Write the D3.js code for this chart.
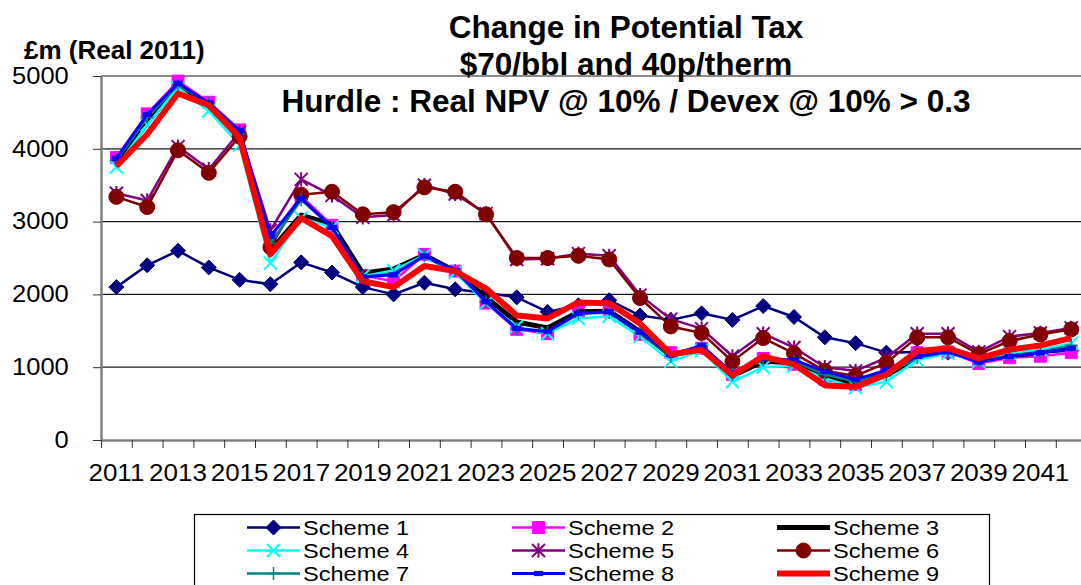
<!DOCTYPE html>
<html>
<head>
<meta charset="utf-8">
<script src="https://cdnjs.cloudflare.com/ajax/libs/d3/7.8.5/d3.min.js"></script>
<style>
  body { margin: 0; background: #fff; }
  svg { display: block; font-family: "Liberation Sans", Arial, sans-serif; }
</style>
</head>
<body>
<svg id="chart"></svg>
<script>
const years = d3.range(2011, 2043);
const yTicks = [0, 1000, 2000, 3000, 4000, 5000];
const xLabelYears = years.filter(y => y % 2 === 1);

const scheme1 = [2100,2400,2600,2370,2200,2140,2440,2300,2100,2000,2160,2070,2020,1960,1760,1850,1920,1710,1650,1740,1650,1840,1690,1410,1330,1200,1210,1200,1130,1180,1200,1230];
const scheme2 = [3880,4480,4930,4640,4260,2780,3350,2950,2260,2180,2550,2320,1880,1520,1460,1760,1760,1450,1200,1260,900,1120,1040,830,760,960,1200,1210,1050,1130,1150,1200];
const scheme3 = [3800,4350,4880,4600,4200,2600,3090,2960,2290,2350,2540,2320,1960,1620,1540,1760,1770,1490,1160,1260,880,1080,1060,870,780,890,1130,1230,1100,1160,1200,1300];
const scheme4 = [3750,4330,4840,4520,4050,2430,3050,2920,2250,2330,2540,2300,1880,1560,1460,1670,1700,1420,1080,1230,800,1000,1020,850,720,800,1100,1190,1080,1190,1240,1330];
const scheme5 = [3390,3290,4030,3720,4230,2880,3580,3360,3060,3090,3500,3380,3110,2480,2490,2560,2530,1990,1660,1530,1150,1460,1270,1000,950,1130,1460,1460,1210,1420,1470,1540];
const scheme6 = [3340,3200,3980,3670,4170,2650,3370,3410,3100,3130,3470,3410,3100,2500,2500,2530,2480,1950,1560,1470,1080,1400,1190,950,880,1060,1410,1410,1180,1360,1450,1520];
const scheme7 = [3840,4430,4870,4630,4200,2700,3300,2920,2240,2290,2530,2330,1900,1530,1480,1730,1750,1470,1150,1290,900,1100,1080,900,800,900,1130,1200,1080,1160,1210,1300];
const scheme8 = [3870,4470,4900,4630,4250,2800,3320,2920,2240,2270,2530,2330,1900,1530,1490,1740,1760,1480,1170,1300,920,1120,1100,940,830,960,1150,1210,1070,1150,1200,1260];
const scheme9 = [3760,4200,4760,4600,4150,2550,3050,2800,2180,2100,2390,2320,2080,1710,1670,1890,1880,1600,1180,1240,890,1150,1040,750,730,900,1220,1260,1120,1240,1300,1400];

const seriesNames = ["Scheme 1","Scheme 2","Scheme 3","Scheme 4","Scheme 5","Scheme 6","Scheme 7","Scheme 8","Scheme 9"];
const seriesValues = [scheme1, scheme2, scheme3, scheme4, scheme5, scheme6, scheme7, scheme8, scheme9];

// look of each series (colour, line width, marker)
const styles = [
  { color: "#000080", width: 2.5, marker: "diamond" },
  { color: "#ff00ff", width: 2.5, marker: "square" },
  { color: "#000000", width: 5,   marker: null },
  { color: "#00ffff", width: 2.5, marker: "cross" },
  { color: "#800080", width: 2.5, marker: "star" },
  { color: "#800000", width: 2.5, marker: "circle" },
  { color: "#008080", width: 2.5, marker: "plus" },
  { color: "#0000ff", width: 3,   marker: "dash" },
  { color: "#ff0000", width: 6,   marker: null }
];

const width = 1081;
const height = 585;
const plot = { left: 101, top: 76, bottom: 440, band: 30.8 };

const svg = d3.select("#chart").attr("width", width).attr("height", height);

// scales
const x = d3.scaleBand()
  .domain(years)
  .range([plot.left, plot.left + plot.band * years.length]);
const xEdge = d3.scaleLinear()
  .domain([0, years.length])
  .range([plot.left, plot.left + plot.band * years.length]);
const y = d3.scaleLinear().domain([0, 5000]).range([plot.bottom, plot.top]);
const cx = d => x(d) + x.bandwidth() / 2;

// gridlines
svg.append("g")
  .selectAll("line")
  .data(yTicks.filter(t => t > 0))
  .enter()
  .append("line")
    .attr("x1", plot.left).attr("x2", width)
    .attr("y1", d => y(d)).attr("y2", d => y(d))
    .attr("stroke", "#1a1a1a")
    .attr("stroke-width", 1.2);

// y axis
const yAxis = svg.append("g")
  .attr("transform", `translate(${plot.left},0)`)
  .call(d3.axisLeft(y).tickValues(yTicks).tickFormat(d3.format("d")).tickSize(8).tickSizeOuter(0));
yAxis.select(".domain").attr("stroke", "#808080").attr("stroke-width", 2.5);
yAxis.selectAll(".tick line").attr("stroke", "#333");
yAxis.selectAll(".tick text")
  .attr("x", -29)
  .attr("transform", "scale(1.11,1)")
  .style("font-size", "23px")
  .attr("fill", "#000");

// x axis: ticks at category edges, labels on odd years
const xAxis = svg.append("g")
  .attr("transform", `translate(0,${plot.bottom})`)
  .call(d3.axisBottom(xEdge).tickValues(d3.range(0, years.length + 1)).tickSize(8).tickSizeOuter(0).tickFormat(""));
xAxis.select(".domain").attr("stroke", "#808080").attr("stroke-width", 2.5);
xAxis.selectAll(".tick line").attr("stroke", "#333");

const xLabels = svg.append("g")
  .attr("transform", `translate(0,${plot.bottom})`)
  .call(d3.axisBottom(x).tickValues(xLabelYears).tickSize(0));
xLabels.select(".domain").remove();
xLabels.selectAll(".tick text")
  .attr("y", 41.5)
  .attr("dy", null)
  .attr("transform", "scale(1.13,1)")
  .style("font-size", "23px")
  .attr("fill", "#000");
xLabels.selectAll(".tick").attr("transform", d => `translate(${cx(d)},0)`);

// marker shapes
function markerPath(kind, s) {
  const p = d3.path();
  if (kind === "diamond") {
    p.moveTo(0, -s); p.lineTo(s, 0); p.lineTo(0, s); p.lineTo(-s, 0); p.closePath();
  } else if (kind === "square") {
    p.rect(-s * 0.85, -s * 0.85, s * 1.7, s * 1.7);
  } else if (kind === "circle") {
    p.arc(0, 0, s, 0, 2 * Math.PI);
  } else if (kind === "cross") {
    p.moveTo(-s, -s); p.lineTo(s, s); p.moveTo(-s, s); p.lineTo(s, -s);
  } else if (kind === "star") {
    p.moveTo(-s, -s); p.lineTo(s, s); p.moveTo(-s, s); p.lineTo(s, -s);
    p.moveTo(0, -s * 1.1); p.lineTo(0, s * 1.1);
  } else if (kind === "plus") {
    p.moveTo(-s, 0); p.lineTo(s, 0); p.moveTo(0, -s); p.lineTo(0, s);
  } else if (kind === "dash") {
    p.rect(-s * 0.7, -s * 0.35, s * 1.4, s * 0.7);
  }
  return p.toString();
}
const filled = { diamond: true, square: true, circle: true, dash: true };

function drawMarker(g, kind, color, size) {
  if (!kind) return;
  const path = g.append("path").attr("d", markerPath(kind, size));
  if (filled[kind]) path.attr("fill", color).attr("stroke", color).attr("stroke-width", 1);
  else path.attr("fill", "none").attr("stroke", color).attr("stroke-width", kind === "plus" ? 1.5 : 2);
}
const markerSize = { diamond: 7.5, square: 7, circle: 7.5, cross: 6.5, star: 6.5, plus: 6.5, dash: 6 };

// series lines
const line = d3.line()
  .x((d, i) => cx(years[i]))
  .y(d => y(d));

const seriesG = svg.append("g");
seriesValues.forEach((vals, k) => {
  const st = styles[k];
  const g = seriesG.append("g");
  g.append("path")
    .datum(vals)
    .attr("d", line)
    .attr("fill", "none")
    .attr("stroke", st.color)
    .attr("stroke-width", st.width)
    .attr("stroke-linejoin", "round");
  vals.forEach((v, i) => {
    const m = g.append("g").attr("transform", `translate(${cx(years[i])},${y(v)})`);
    drawMarker(m, st.marker, st.color, markerSize[st.marker]);
  });
});

// titles
const titleLines = ["Change in Potential Tax", "$70/bbl and 40p/therm", "Hurdle : Real NPV @ 10% / Devex @ 10% > 0.3"];
svg.append("g")
  .selectAll("text")
  .data(titleLines)
  .enter()
  .append("text")
    .attr("x", 626)
    .attr("y", (d, i) => 38 + i * 37)
    .attr("text-anchor", "middle")
    .style("font-size", "31.5px")
    .style("font-weight", "bold")
    .text(d => d);

svg.append("text")
  .attr("x", 24)
  .attr("y", 59)
  .style("font-size", "26px")
  .style("font-weight", "bold")
  .text("£m (Real 2011)");

// legend
const legend = svg.append("g");
legend.append("rect")
  .attr("x", 194.5).attr("y", 514.5)
  .attr("width", 795).attr("height", 100)
  .attr("fill", "#fff")
  .attr("stroke", "#000")
  .attr("stroke-width", 1.2);

const colX = [247, 512, 777];
const rowY = [527.5, 550.5, 573.5];
const legendScale = 1.18;
seriesNames.forEach((name, k) => {
  const st = styles[k];
  const gx = colX[k % 3];
  const gy = rowY[Math.floor(k / 3)];
  const item = legend.append("g").attr("transform", `translate(${gx},${gy})`);
  item.append("line")
    .attr("x1", 0).attr("x2", 53)
    .attr("stroke", st.color)
    .attr("stroke-width", st.width);
  const m = item.append("g").attr("transform", "translate(26.5,0)");
  drawMarker(m, st.marker, st.color, markerSize[st.marker]);
  item.append("text")
    .attr("x", 56 / legendScale)
    .attr("y", 7.5)
    .attr("transform", `scale(${legendScale},1)`)
    .style("font-size", "20px")
    .text(name);
});
</script>
</body>
</html>
